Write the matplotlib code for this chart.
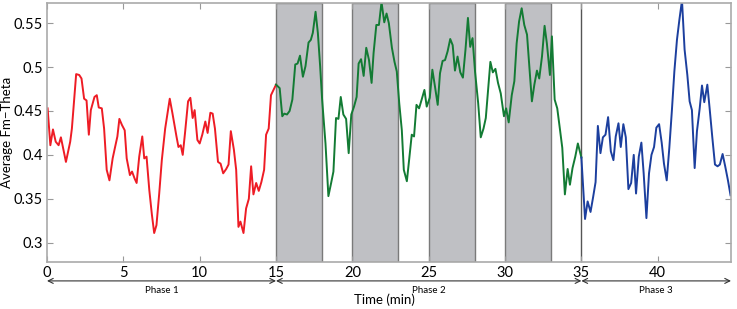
import matplotlib
matplotlib.use("Agg")
from matplotlib import pyplot as plt

# Phase 1 (red)
phase1_t = [0.04, 0.22, 0.39, 0.57, 0.76, 0.91, 1.04, 1.24, 1.52, 1.63, 1.91, 2.11, 2.26, 2.43,
            2.59, 2.74, 2.87, 3.11, 3.26, 3.39, 3.59, 3.74, 3.91, 4.09, 4.30, 4.46, 4.61, 4.74,
            4.91, 5.09, 5.22, 5.43, 5.57, 5.74, 5.87, 6.04, 6.24, 6.37, 6.52, 6.70, 6.87, 7.02,
            7.17, 7.35, 7.52, 7.74, 8.04, 8.22, 8.48, 8.61, 8.76, 8.89, 9.04, 9.24, 9.39, 9.54,
            9.67, 9.85, 10.0, 10.17, 10.37, 10.52, 10.70, 10.85, 11.0, 11.2, 11.37, 11.54, 11.74,
            11.89, 12.04, 12.24, 12.39, 12.54, 12.67, 12.87, 13.04, 13.22, 13.37, 13.52, 13.70,
            13.87, 14.04, 14.22, 14.35, 14.52, 14.67, 15.0]
phase1_v = [0.453, 0.411, 0.429, 0.415, 0.411, 0.420, 0.409, 0.392, 0.415, 0.430, 0.492, 0.491,
            0.487, 0.464, 0.462, 0.423, 0.451, 0.466, 0.468, 0.454, 0.453, 0.430, 0.383, 0.371,
            0.396, 0.409, 0.421, 0.441, 0.434, 0.428, 0.396, 0.377, 0.381, 0.373, 0.368, 0.398,
            0.421, 0.396, 0.398, 0.360, 0.332, 0.311, 0.320, 0.356, 0.394, 0.430, 0.464, 0.447,
            0.421, 0.409, 0.411, 0.400, 0.425, 0.461, 0.465, 0.442, 0.451, 0.417, 0.413, 0.423,
            0.438, 0.425, 0.448, 0.447, 0.430, 0.392, 0.390, 0.379, 0.384, 0.389, 0.427, 0.406,
            0.383, 0.318, 0.324, 0.311, 0.339, 0.350, 0.387, 0.355, 0.368, 0.359, 0.369, 0.383,
            0.423, 0.430, 0.468, 0.480]

# Phase 2 (green)
phase2_t = [15.0, 15.24, 15.41, 15.54, 15.72, 15.89, 16.07, 16.26, 16.41, 16.57, 16.76, 16.93,
            17.13, 17.28, 17.41, 17.59, 17.74, 17.89, 18.02, 18.24, 18.43, 18.61, 18.76, 18.93,
            19.09, 19.24, 19.41, 19.59, 19.76, 19.93, 20.11, 20.28, 20.41, 20.57, 20.74, 20.91,
            21.09, 21.26, 21.39, 21.57, 21.74, 21.91, 22.09, 22.24, 22.39, 22.59, 22.76, 22.91,
            23.07, 23.24, 23.37, 23.57, 23.74, 23.89, 24.04, 24.20, 24.37, 24.54, 24.72, 24.87,
            25.07, 25.24, 25.41, 25.59, 25.74, 25.91, 26.07, 26.24, 26.41, 26.57, 26.72, 26.89,
            27.07, 27.24, 27.41, 27.57, 27.72, 27.87, 28.04, 28.24, 28.41, 28.59, 28.74, 28.89,
            29.04, 29.20, 29.37, 29.54, 29.72, 29.93, 30.07, 30.24, 30.44, 30.61, 30.76, 30.92,
            31.09, 31.26, 31.44, 31.59, 31.76, 31.92, 32.09, 32.24, 32.42, 32.59, 32.74, 32.94,
            33.07, 33.25, 33.42, 33.59, 33.75, 33.92, 34.10, 34.25, 34.42, 34.60, 34.77, 35.0]
phase2_v = [0.480, 0.476, 0.444, 0.447, 0.446, 0.450, 0.463, 0.503, 0.504, 0.513, 0.489, 0.501,
            0.528, 0.531, 0.539, 0.563, 0.539, 0.501, 0.463, 0.413, 0.353, 0.368, 0.381, 0.442,
            0.441, 0.466, 0.446, 0.441, 0.402, 0.446, 0.455, 0.466, 0.504, 0.509, 0.490, 0.522,
            0.508, 0.482, 0.516, 0.548, 0.548, 0.574, 0.551, 0.561, 0.550, 0.522, 0.506, 0.495,
            0.459, 0.428, 0.383, 0.370, 0.398, 0.423, 0.421, 0.457, 0.453, 0.463, 0.474, 0.455,
            0.465, 0.497, 0.478, 0.457, 0.493, 0.507, 0.508, 0.518, 0.532, 0.525, 0.496, 0.512,
            0.494, 0.488, 0.520, 0.556, 0.523, 0.533, 0.494, 0.459, 0.420, 0.430, 0.442, 0.474,
            0.506, 0.494, 0.498, 0.482, 0.470, 0.444, 0.453, 0.437, 0.468, 0.484, 0.527, 0.552,
            0.567, 0.548, 0.537, 0.501, 0.461, 0.480, 0.496, 0.487, 0.512, 0.547, 0.527, 0.491,
            0.535, 0.463, 0.453, 0.430, 0.408, 0.355, 0.384, 0.366, 0.385, 0.398, 0.413, 0.397]

# Phase 3 (blue)
phase3_t = [35.0, 35.24, 35.41, 35.60, 35.77, 35.93, 36.08, 36.25, 36.41, 36.58, 36.75, 36.93,
            37.10, 37.25, 37.43, 37.58, 37.75, 37.91, 38.08, 38.26, 38.43, 38.58, 38.76, 38.93,
            39.08, 39.26, 39.43, 39.59, 39.76, 39.91, 40.09, 40.26, 40.41, 40.59, 40.76, 40.93,
            41.09, 41.26, 41.42, 41.59, 41.76, 41.94, 42.09, 42.24, 42.42, 42.57, 42.75, 42.90,
            43.05, 43.25, 43.40, 43.57, 43.75, 43.92, 44.07, 44.25, 44.42, 44.60, 44.77]
phase3_v = [0.397, 0.327, 0.347, 0.335, 0.352, 0.369, 0.433, 0.402, 0.420, 0.423, 0.443, 0.404,
            0.394, 0.421, 0.436, 0.409, 0.435, 0.420, 0.361, 0.368, 0.400, 0.356, 0.398, 0.414,
            0.379, 0.328, 0.379, 0.400, 0.409, 0.431, 0.435, 0.414, 0.390, 0.371, 0.408, 0.451,
            0.495, 0.531, 0.554, 0.576, 0.520, 0.491, 0.461, 0.451, 0.385, 0.427, 0.453, 0.479,
            0.460, 0.480, 0.453, 0.421, 0.389, 0.387, 0.389, 0.401, 0.387, 0.371, 0.354]

# stimulation blocks (shaded) and phases
blocks = [(15, 18), (20, 23), (25, 28), (30, 33)]
phases = [("Phase 1", 0, 15), ("Phase 2", 15, 35), ("Phase 3", 35, 44.8)]

xticks = [0, 5, 10, 15, 20, 25, 30, 35, 40]
yticks = [0.3, 0.35, 0.4, 0.45, 0.5, 0.55]
ytick_labels = ["0.3", "0.35", "0.4", "0.45", "0.5", "0.55"]

plt.rcParams['font.family'] = ['Lato', 'DejaVu Sans']
narrow = ['Liberation Sans Narrow', 'Lato', 'DejaVu Sans']

fig = plt.figure(figsize=(7.37, 3.09), dpi=100)
ax = fig.add_axes([47 / 737, 47 / 309, 684 / 737, 259 / 309])

for start, end in blocks:
    ax.axvspan(start, end, facecolor="#bfc0c4", edgecolor="#7a7a7a", linewidth=1.0, zorder=0)
ax.axvline(35, color="#555555", linewidth=1.0, zorder=0)

ax.plot(phase1_t, phase1_v, color="#ee1c25", linewidth=1.4)
ax.plot(phase2_t, phase2_v, color="#137b34", linewidth=1.4)
ax.plot(phase3_t, phase3_v, color="#1c3f9e", linewidth=1.4)

ax.set_xlim(0, 44.8)
ax.set_ylim(0.278, 0.573)
ax.set_xticks(xticks)
ax.set_yticks(yticks)
ax.set_yticklabels(ytick_labels)
ax.tick_params(direction="in", top=True, right=True, length=4, color="#999999",
               labelsize=10.5, pad=3)
for spine in ax.spines.values():
    spine.set_color("#aaaaaa")
    spine.set_linewidth(1.2)

ax.set_ylabel("Average Fm\u2212Theta", fontsize=9.5)
ax.yaxis.set_label_coords(-0.049, 0.5)

# phase arrows under the axis
for name, start, end in phases:
    ax.annotate("", xy=(start, -0.073), xytext=(end, -0.073),
                xycoords=("data", "axes fraction"), textcoords=("data", "axes fraction"),
                arrowprops=dict(arrowstyle="<->", color="#333333", lw=0.8,
                                shrinkA=0, shrinkB=0, mutation_scale=9),
                annotation_clip=False)
    ax.text((start + end) / 2, -0.11, name, transform=ax.get_xaxis_transform(),
            ha="center", va="center", fontsize=7, family=narrow)

ax.text(22.1, -0.147, "Time (min)", transform=ax.get_xaxis_transform(),
        ha="center", va="center", fontsize=9.5, family=narrow)

fig.savefig("out.png", dpi=100)
